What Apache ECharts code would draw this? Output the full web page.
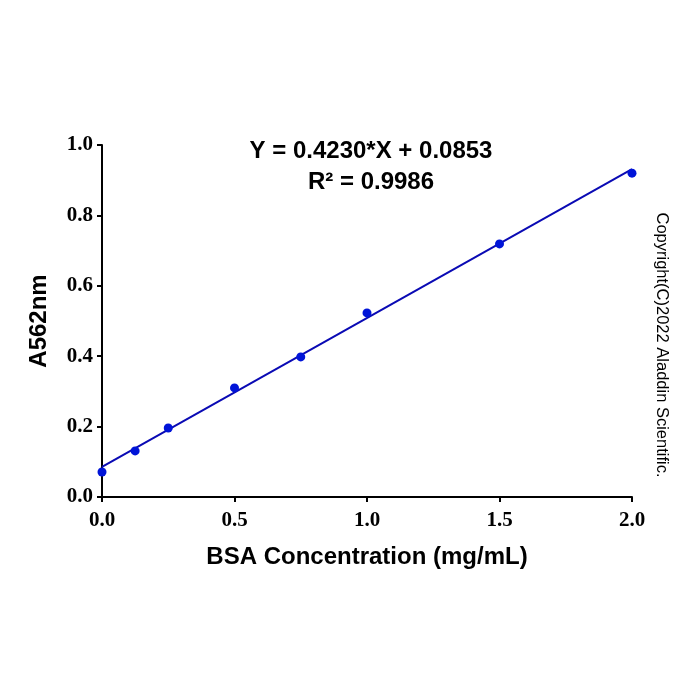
<!DOCTYPE html>
<html>
<head>
<meta charset="utf-8">
<script src="https://cdn.jsdelivr.net/npm/echarts@6/dist/echarts.min.js"></script>
<style>
    html, body { margin: 0; padding: 0; background: #fff; }
    #chart { width: 700px; height: 700px; }
</style>
</head>
<body>
<div id="chart"></div>
<script>
// BSA standard curve
var concentration = [0, 0.125, 0.25, 0.5, 0.75, 1.0, 1.5, 2.0];
var absorbance = [0.071, 0.131, 0.196, 0.310, 0.398, 0.523, 0.719, 0.920];
var slope = 0.4230;
var intercept = 0.0853;
var xTicks = ['0.0', '0.5', '1.0', '1.5', '2.0'];

var points = concentration.map(function (c, i) { return [c, absorbance[i]]; });
var fitLine = [[0, intercept], [2, slope * 2 + intercept]];

var myChart = echarts.init(document.getElementById('chart'));
myChart.setOption({
    animation: false,
    backgroundColor: '#fff',
    grid: { left: 102, right: 68, top: 145, bottom: 203 },
    title: {
        text: 'Y = 0.4230*X + 0.0853\nR² = 0.9986',
        left: 366,
        top: 131,
        textAlign: 'center',
        textStyle: {
            fontFamily: 'Liberation Sans',
            fontWeight: 'bold',
            fontSize: 24,
            lineHeight: 31,
            color: '#000'
        }
    },
    xAxis: {
        type: 'value',
        min: 0,
        max: 2,
        interval: 0.5,
        name: 'BSA Concentration (mg/mL)',
        nameLocation: 'middle',
        nameGap: 48,
        nameTextStyle: { fontFamily: 'Liberation Sans', fontWeight: 'bold', fontSize: 24, color: '#000' },
        axisLine: { lineStyle: { color: '#000', width: 2 } },
        axisTick: { length: 5, lineStyle: { color: '#000', width: 2 } },
        splitLine: { show: false },
        axisLabel: {
            margin: 13,
            fontFamily: 'Liberation Serif',
            fontWeight: 'bold',
            fontSize: 21,
            color: '#000',
            formatter: function (v) { return xTicks[Math.round(v / 0.5)]; }
        }
    },
    yAxis: {
        type: 'value',
        min: 0,
        max: 1,
        interval: 0.2,
        name: 'A562nm',
        nameLocation: 'middle',
        nameGap: 51,
        nameTextStyle: { fontFamily: 'Liberation Sans', fontWeight: 'bold', fontSize: 24, color: '#000' },
        axisLine: { show: true, lineStyle: { color: '#000', width: 2 } },
        axisTick: { show: true, length: 5, lineStyle: { color: '#000', width: 2 } },
        splitLine: { show: false },
        axisLabel: {
            margin: 9,
            fontFamily: 'Liberation Serif',
            fontWeight: 'bold',
            fontSize: 21,
            color: '#000',
            formatter: function (v) { return v.toFixed(1); }
        }
    },
    graphic: [{
        type: 'text',
        x: 662,
        y: 345,
        rotation: -Math.PI / 2,
        style: {
            text: 'Copyright(C)2022 Aladdin Scientific.',
            fontFamily: 'Liberation Sans',
            fontSize: 16.5,
            fill: '#000',
            align: 'center',
            verticalAlign: 'middle'
        }
    }],
    series: [
        {
            type: 'line',
            data: fitLine,
            symbol: 'none',
            lineStyle: { color: '#0a0ab4', width: 2 },
            z: 2
        },
        {
            type: 'scatter',
            data: points,
            symbolSize: 9,
            itemStyle: { color: '#0014d8', opacity: 1 },
            z: 3
        }
    ]
});
</script>
</body>
</html>
